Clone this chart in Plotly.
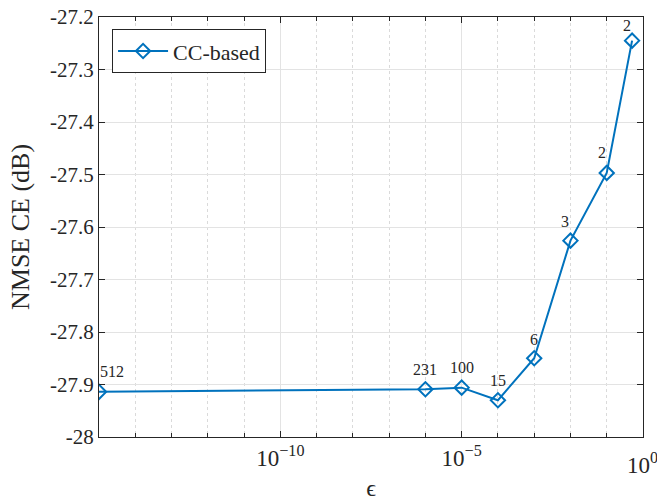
import math
import plotly.graph_objects as go

eps = [1e-15, 1e-6, 1e-5, 1e-4, 1e-3, 1e-2, 1e-1, 0.5]
nmse = [-27.914, -27.909, -27.906, -27.930, -27.850, -27.626, -27.497, -27.245]
labels = ["512", "231", "100", "15", "6", "3", "2", "2"]
label_xshift = [13, 0, 0, 0, 0, -5, -5, -5]
label_yshift = [20, 20, 20, 20, 19, 19, 20, 15]

y_ticks = [-28, -27.9, -27.8, -27.7, -27.6, -27.5, -27.4, -27.3, -27.2]
y_ticktext = ["-28", "-27.9", "-27.8", "-27.7", "-27.6", "-27.5", "-27.4", "-27.3", "-27.2"]
x_ticks = [1e-10, 1e-5]
x_ticktext = ["10<sup>\u221210</sup>", "10<sup>\u22125</sup>"]
x_last_tick = 1e0
x_last_text = "10<sup>0</sup>"
x_minor = [10.0 ** k for k in range(-15, 1) if k not in (-10, -5, 0)]

BLUE = "#0072BD"
AX = "#262626"
SERIF = "Liberation Serif, Times New Roman, serif"

fig = go.Figure()
fig.add_trace(go.Scatter(
    x=eps, y=nmse, mode="lines+markers", name="CC-based",
    line=dict(color=BLUE, width=2),
    marker=dict(symbol="diamond-open", size=11, color=BLUE, line=dict(width=2, color=BLUE)),
))

for xv, yv, t, xs, ys in zip(eps, nmse, labels, label_xshift, label_yshift):
    fig.add_annotation(x=math.log10(xv), y=yv, xref="x", yref="y", text=t, showarrow=False,
                       xshift=xs, yshift=ys,
                       font=dict(family=SERIF, size=16, color=AX))

# last x tick label (at the right edge of the figure)
fig.add_annotation(x=math.log10(x_last_tick), y=0, xref="x", yref="paper",
                   text=x_last_text, showarrow=False, xanchor="left", yanchor="top",
                   xshift=-18, yshift=-10,
                   font=dict(family=SERIF, size=23, color=AX))

# y-axis title
fig.add_annotation(x=0, y=0.5, xref="paper", yref="paper", text="NMSE CE (dB)",
                   showarrow=False, textangle=-90, xanchor="center", yanchor="middle",
                   xshift=-79, font=dict(family=SERIF, size=26, color=AX))

fig.update_layout(
    width=657, height=501,
    margin=dict(l=99, r=14, t=17, b=64),
    paper_bgcolor="white", plot_bgcolor="white",
    font=dict(family=SERIF, color=AX),
    showlegend=True,
    legend=dict(x=0.024, y=0.971, xanchor="left", yanchor="top",
                bgcolor="white", bordercolor=AX, borderwidth=1,
                font=dict(family=SERIF, size=22, color=AX),
                itemwidth=50, tracegroupgap=0),
    xaxis=dict(
        type="log", range=[-15, 0], automargin=False,
        tickmode="array", tickvals=x_ticks + [x_last_tick], ticktext=x_ticktext + [""],
        tickfont=dict(family=SERIF, size=23, color=AX),
        ticks="inside", ticklen=6, tickcolor=AX, tickwidth=1,
        showline=True, linecolor=AX, linewidth=1, mirror="ticks",
        showgrid=True, gridcolor="#E3E3E3", gridwidth=1,
        minor=dict(tickvals=x_minor, ticks="inside", ticklen=4, tickcolor=AX,
                   showgrid=True, gridcolor="#DADADA", griddash="dot", gridwidth=1),
        zeroline=False,
        title=dict(text="\u03f5", font=dict(family=SERIF, size=24, color=AX), standoff=10),
    ),
    yaxis=dict(
        range=[-28, -27.2], automargin=False,
        tickmode="array", tickvals=y_ticks, ticktext=y_ticktext,
        tickfont=dict(family=SERIF, size=21, color=AX),
        ticks="inside", ticklen=6, tickcolor=AX, tickwidth=1,
        showline=True, linecolor=AX, linewidth=1, mirror="ticks",
        showgrid=True, gridcolor="#E3E3E3", gridwidth=1,
        zeroline=False,
    ),
)

fig.write_html("out.html")
